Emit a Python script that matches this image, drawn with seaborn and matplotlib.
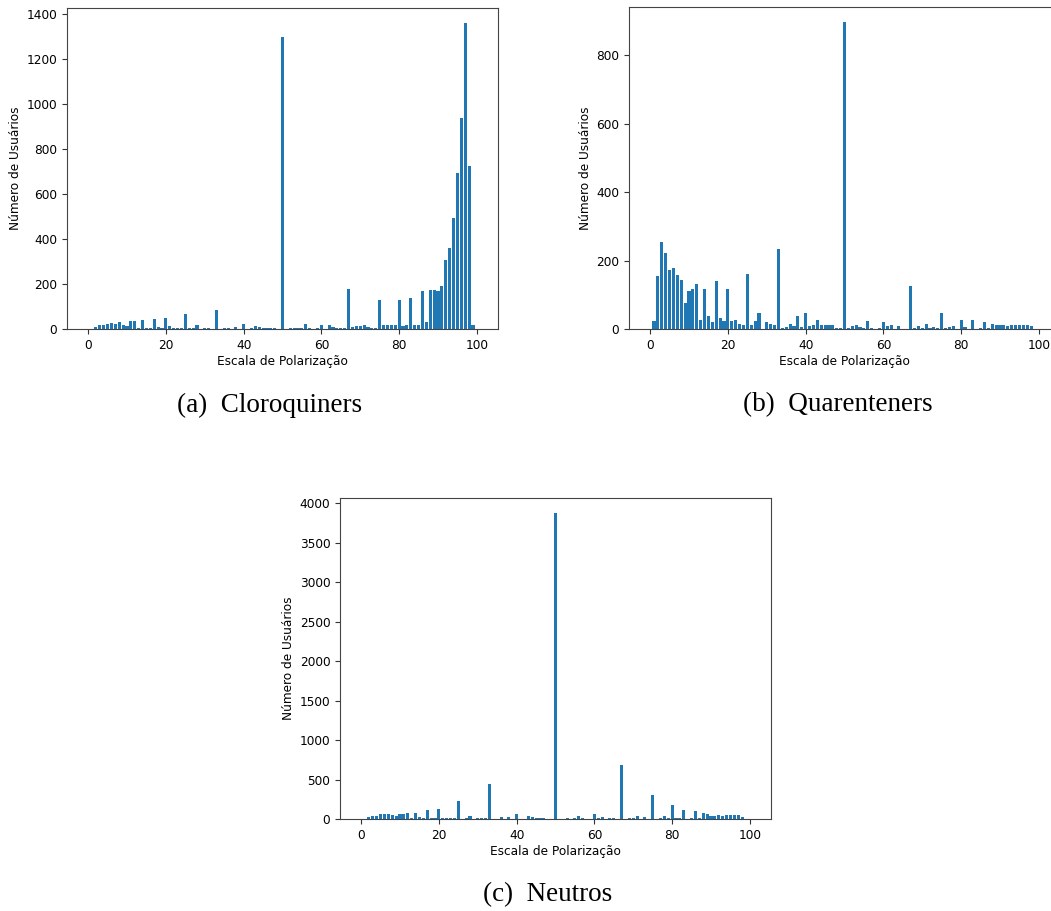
import numpy as np
import pandas as pd
import seaborn as sns
import matplotlib
matplotlib.use('Agg')
import matplotlib.pyplot as plt

# escala de polarizacao 0..100
escala = list(range(101))

cloroquiners = [
    0, 0, 7, 16, 16, 21, 28, 24, 30, 19,
    15, 34, 34, 3, 38, 3, 3, 43, 7, 3,
    50, 12, 3, 3, 3, 67, 3, 3, 16, 0,
    3, 3, 0, 86, 0, 3, 3, 0, 7, 0,
    21, 0, 3, 12, 7, 3, 3, 3, 3, 0,
    1300, 0, 3, 3, 3, 3, 21, 3, 0, 3,
    16, 0, 16, 7, 3, 3, 3, 178, 7, 12,
    12, 19, 7, 3, 3, 127, 16, 16, 16, 19,
    127, 13, 19, 139, 19, 19, 167, 31, 175, 175,
    167, 191, 307, 360, 492, 696, 940, 1360, 724, 16,
    0,
]

quarenteners = [
    0, 22, 154, 254, 222, 172, 178, 158, 143, 76,
    110, 118, 133, 27, 116, 38, 20, 140, 33, 22,
    118, 22, 27, 16, 13, 161, 13, 22, 48, 0,
    20, 15, 11, 235, 3, 5, 15, 8, 38, 5,
    48, 8, 11, 25, 13, 11, 11, 11, 3, 3,
    897, 3, 8, 11, 5, 3, 22, 3, 0, 3,
    20, 8, 11, 0, 8, 0, 0, 125, 3, 8,
    3, 15, 3, 5, 3, 48, 3, 5, 8, 0,
    27, 5, 0, 25, 0, 3, 20, 3, 15, 11,
    13, 13, 8, 13, 13, 13, 13, 13, 8, 0,
    0,
]

neutros = [
    0, 0, 21, 42, 42, 63, 63, 63, 55, 34,
    63, 63, 76, 8, 76, 21, 8, 118, 8, 8,
    131, 8, 8, 8, 8, 232, 0, 8, 34, 0,
    8, 8, 8, 439, 0, 0, 21, 0, 21, 0,
    63, 0, 0, 34, 21, 8, 8, 8, 0, 0,
    3870, 0, 0, 8, 0, 8, 42, 8, 0, 0,
    63, 8, 21, 0, 8, 8, 0, 679, 0, 8,
    8, 42, 0, 21, 0, 300, 0, 8, 34, 8,
    177, 8, 8, 110, 0, 8, 97, 8, 76, 63,
    42, 34, 55, 42, 55, 55, 55, 55, 21, 0,
    0,
]

captions = ['(a)  Cloroquiners', '(b)  Quarenteners', '(c)  Neutros']

W, H = 1051, 911
fig = plt.figure(figsize=(W / 100, H / 100), dpi=100)


def box(l, t, r, b):
    return [l / W, 1 - b / H, (r - l) / W, (b - t) / H]


def painel(ax, valores):
    df = pd.DataFrame({'escala': escala, 'usuarios': valores})
    sns.barplot(data=df, x='escala', y='usuarios', native_scale=True, ax=ax,
                color='#1f77b4', saturation=1, errorbar=None, linewidth=0)
    lo, hi = min(escala) - 0.4, max(escala) + 0.4
    pad = 0.05 * (hi - lo)
    ax.set_xlim(lo - pad, hi + pad)
    ax.set_ylim(0, max(valores) * 1.05)
    ax.set_xticks([0, 20, 40, 60, 80, 100])
    ax.set_xlabel('Escala de Polarização', fontsize=8.7, labelpad=2)
    ax.set_ylabel('Número de Usuários', fontsize=8.7, labelpad=3)
    ax.tick_params(labelsize=8.7, length=3.5, width=0.8, colors='#333333', labelcolor='black')
    for s in ax.spines.values():
        s.set_color('#444444')
        s.set_linewidth(0.8)


ax_a = fig.add_axes(box(67, 8, 498, 329))
ax_b = fig.add_axes(box(629, 7, 1060, 329))
ax_c = fig.add_axes(box(340, 498, 771, 819))

painel(ax_a, cloroquiners)
painel(ax_b, quarenteners)
painel(ax_c, neutros)

for (cx, cy), txt in zip([(270, 405), (838, 405), (548, 895)], captions):
    fig.text(cx / W, 1 - cy / H, txt, ha='center', va='center',
             fontfamily='Liberation Serif', fontsize=19.5)

fig.savefig('out.png', dpi=100)
